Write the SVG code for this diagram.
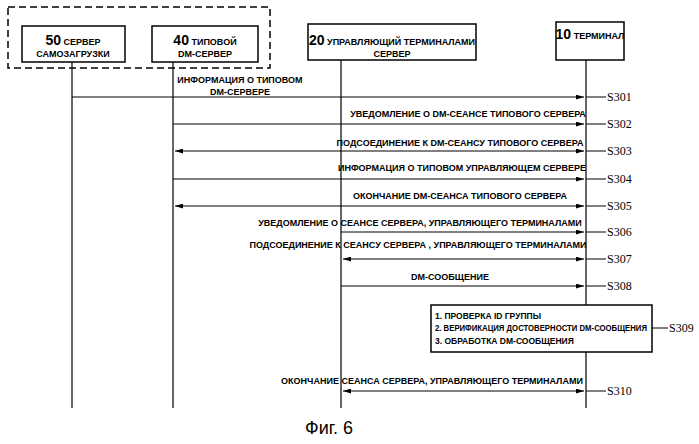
<svg xmlns="http://www.w3.org/2000/svg" width="699" height="444" viewBox="0 0 699 444">
<style>
.box{fill:#fff;stroke:#000;stroke-width:1.5}
.ll{stroke:#000;stroke-width:1.2}
.m{stroke:#000;stroke-width:1;fill:none}
.t{font-family:"Liberation Sans",Arial,sans-serif;font-weight:bold;font-size:9px;fill:#000}
.b{font-family:"Liberation Sans",Arial,sans-serif;font-weight:bold;font-size:8.5px;fill:#000}
.h{font-family:"Liberation Sans",Arial,sans-serif;font-weight:bold;font-size:9px;fill:#000}
.n{font-size:14px}
.s{font-family:"Liberation Serif","Times New Roman",serif;font-size:12px;fill:#000}
</style>
<defs>
<marker id="a" viewBox="0 0 10 6" refX="10" refY="3" markerWidth="8" markerHeight="5" orient="auto-start-reverse"><path d="M0,0L10,3L0,6z" fill="#000"/></marker>
</defs>
<rect x="8" y="7" width="262" height="61" fill="none" stroke="#000" stroke-width="1.5" stroke-dasharray="7,4"/>
<g id="connectors">
<line class="ll" x1="72" y1="62" x2="72" y2="408"/>
<line class="ll" x1="173" y1="62" x2="173" y2="408"/>
<line class="ll" x1="341" y1="60" x2="341" y2="408"/>
<line class="ll" x1="586" y1="60" x2="586" y2="408"/>
<line class="m" x1="72" y1="97" x2="584" y2="97" marker-end="url(#a)"/>
<line class="m" x1="173" y1="124" x2="584" y2="124" marker-end="url(#a)"/>
<line class="m" x1="175" y1="151" x2="584" y2="151" marker-start="url(#a)" marker-end="url(#a)"/>
<line class="m" x1="173" y1="179" x2="584" y2="179" marker-end="url(#a)"/>
<line class="m" x1="175" y1="206" x2="584" y2="206" marker-start="url(#a)" marker-end="url(#a)"/>
<line class="m" x1="341" y1="232" x2="584" y2="232" marker-end="url(#a)"/>
<line class="m" x1="343" y1="259" x2="584" y2="259" marker-start="url(#a)" marker-end="url(#a)"/>
<line class="m" x1="341" y1="286" x2="584" y2="286" marker-end="url(#a)"/>
<line class="m" x1="343" y1="391" x2="584" y2="391" marker-start="url(#a)" marker-end="url(#a)"/>
<path class="m" d="M586,97H606M586,124H606M586,151H606M586,179H606M586,206H606M586,232H606M586,259H606M586,286H606M652,328H668M586,391H606"/>
</g>
<g id="n50"><rect class="box" x="22" y="26" width="103" height="36"/><text class="h" x="73" y="45" text-anchor="middle"><tspan class="n">50</tspan>  СЕРВЕР</text><text class="h" x="73" y="57" text-anchor="middle">САМОЗАГРУЗКИ</text></g>
<g id="n40"><rect class="box" x="152" y="26" width="106" height="36"/><text class="h" x="205" y="45" text-anchor="middle"><tspan class="n">40</tspan> ТИПОВОЙ</text><text class="h" x="205" y="57" text-anchor="middle">DM-СЕРВЕР</text></g>
<g id="n20"><rect class="box" x="308" y="24" width="168" height="36"/><text class="h" x="392" y="45" text-anchor="middle"><tspan class="n">20</tspan> УПРАВЛЯЮЩИЙ ТЕРМИНАЛАМИ</text><text class="h" x="392" y="57" text-anchor="middle">СЕРВЕР</text></g>
<g id="n10"><rect class="box" x="556" y="22" width="68" height="38"/><text class="h" x="590" y="39" text-anchor="middle"><tspan class="n">10</tspan> ТЕРМИНАЛ</text></g>
<g id="labels">
<text class="t" x="240" y="83" text-anchor="middle">ИНФОРМАЦИЯ О ТИПОВОМ</text>
<text class="t" x="240" y="95" text-anchor="middle">DM-СЕРВЕРЕ</text>
<text class="t" x="468" y="117" text-anchor="middle">УВЕДОМЛЕНИЕ О DM-СЕАНСЕ  ТИПОВОГО СЕРВЕРА</text>
<text class="t" x="460" y="146" text-anchor="middle">ПОДСОЕДИНЕНИЕ К DM-СЕАНСУ  ТИПОВОГО СЕРВЕРА</text>
<text class="t" x="462" y="171" text-anchor="middle">ИНФОРМАЦИЯ О ТИПОВОМ  УПРАВЛЯЮЩЕМ СЕРВЕРЕ</text>
<text class="t" x="460" y="199" text-anchor="middle">ОКОНЧАНИЕ  DM-СЕАНСА  ТИПОВОГО СЕРВЕРА</text>
<text class="t" x="420" y="226" text-anchor="middle">УВЕДОМЛЕНИЕ О СЕАНСЕ СЕРВЕРА,  УПРАВЛЯЮЩЕГО ТЕРМИНАЛАМИ</text>
<text class="t" x="418" y="248" text-anchor="middle">ПОДСОЕДИНЕНИЕ К СЕАНСУ СЕРВЕРА ,  УПРАВЛЯЮЩЕГО ТЕРМИНАЛАМИ</text>
<text class="t" x="450" y="280" text-anchor="middle">DM-СООБЩЕНИЕ</text>
<text class="t" x="432" y="384" text-anchor="middle">ОКОНЧАНИЕ СЕАНСА СЕРВЕРА, УПРАВЛЯЮЩЕГО ТЕРМИНАЛАМИ</text>
</g>
<g id="s309"><rect class="box" x="431" y="305" width="221" height="47" stroke-width="1.2"/>
<text class="b" x="435" y="319">1. ПРОВЕРКА  ID  ГРУППЫ</text>
<text class="b" x="435" y="331" textLength="212" lengthAdjust="spacingAndGlyphs">2. ВЕРИФИКАЦИЯ  ДОСТОВЕРНОСТИ DM-СООБЩЕНИЯ</text>
<text class="b" x="435" y="344">3. ОБРАБОТКА  DM-СООБЩЕНИЯ</text></g>
<g id="steps">
<text class="s" x="607" y="101">S301</text>
<text class="s" x="607" y="128">S302</text>
<text class="s" x="607" y="155">S303</text>
<text class="s" x="607" y="183">S304</text>
<text class="s" x="607" y="210">S305</text>
<text class="s" x="607" y="236">S306</text>
<text class="s" x="607" y="263">S307</text>
<text class="s" x="607" y="290">S308</text>
<text class="s" x="669" y="332">S309</text>
<text class="s" x="607" y="395">S310</text>
</g>
<text x="305" y="434" font-family="Liberation Sans,Arial,sans-serif" font-size="18" fill="#000">Фиг. 6</text>
</svg>
